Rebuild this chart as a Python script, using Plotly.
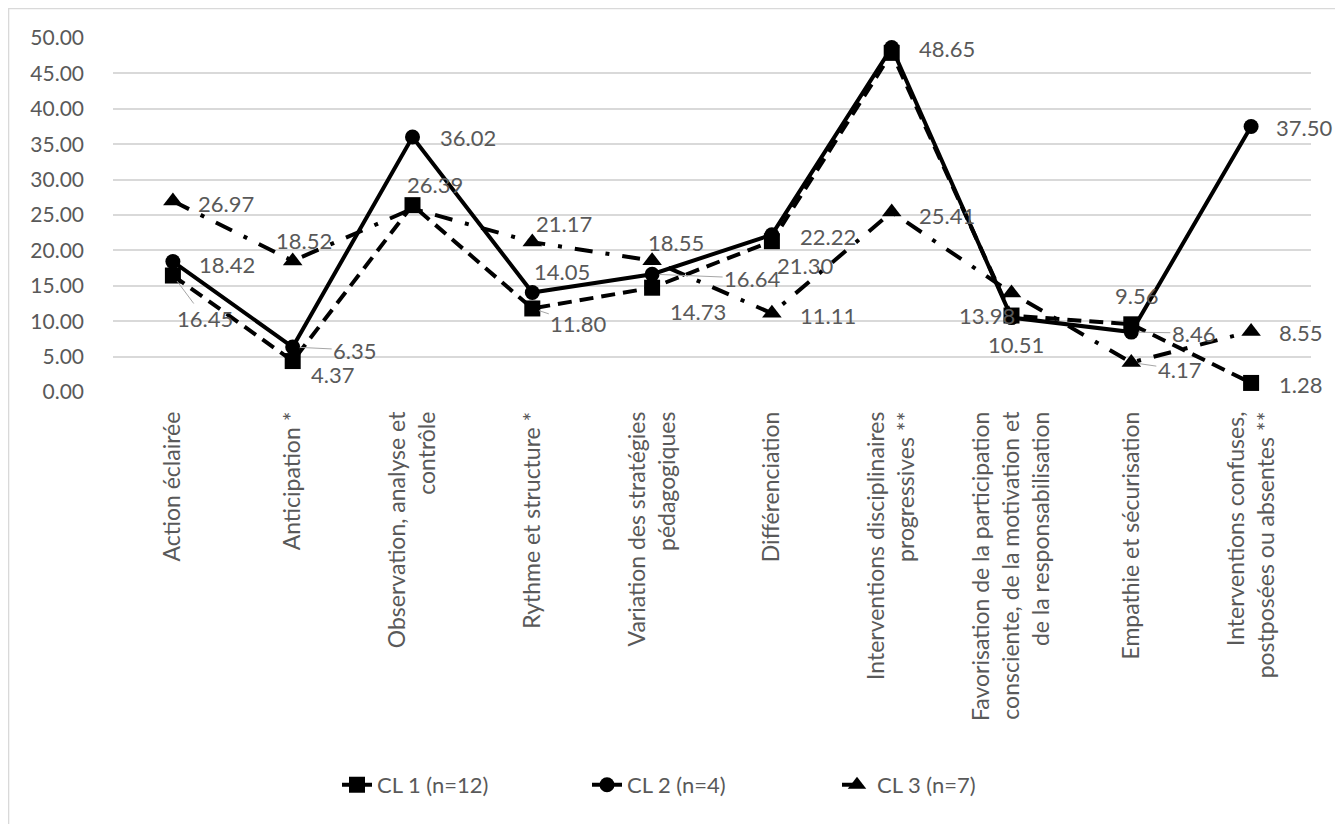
import plotly.graph_objects as go

categories = [
    "Action éclairée",
    "Anticipation *",
    "Observation, analyse et<br>contrôle",
    "Rythme et structure *",
    "Variation des stratégies<br>pédagogiques",
    "Différenciation",
    "Interventions disciplinaires<br>progressives **",
    "Favorisation de la participation<br>consciente, de la motivation et<br>de la responsabilisation",
    "Empathie et sécurisation",
    "Interventions confuses,<br>postposées ou absentes **",
]

cl1 = [16.45, 4.37, 26.39, 11.80, 14.73, 21.30, 47.90, 10.80, 9.56, 1.28]
cl2 = [18.42, 6.35, 36.02, 14.05, 16.64, 22.22, 48.65, 10.51, 8.46, 37.50]
cl3 = [26.97, 18.52, 25.90, 21.17, 18.55, 11.11, 25.41, 13.98, 4.17, 8.55]

names = ["CL 1 (n=12)", "CL 2 (n=4)", "CL 3 (n=7)"]

# data-label placement (pixel offsets of label centre from the point; None = label hidden)
cl1_off = [(32, 43), (40, 13), (22, -21), (46, 15), (46, 24), (33, 24), None, None, (5, -29), (49, 2)]
cl2_off = [(54, 3), (62, 3), (55, 1), (30, -21), (100, 4), (56, 2), (55, 1), (4, 27), (62, 1), (53, 1)]
cl3_off = [(53, 2), (11, -20), None, (32, -19), (24, -18), (56, 2), (55, 3), (-25, 22), (48, 7), (49, 1)]
# labels that Excel drew with a leader line
cl1_lead = [True, False, False, True, False, False, False, False, False, False]
cl2_lead = [False, True, False, False, True, False, False, False, True, False]
cl3_lead = [False] * 8 + [True, False]

FONT = "Lato"
LABEL_COLOR = "#595959"

series = [
    (cl1, names[0], dict(color="black", width=4, dash="14px,8px"),
     dict(symbol="square", size=16, color="black"), cl1_off, cl1_lead),
    (cl2, names[1], dict(color="black", width=4),
     dict(symbol="circle", size=15, color="black"), cl2_off, cl2_lead),
    (cl3, names[2], dict(color="black", width=4, dash="18px,13px,4px,13px"),
     dict(symbol="triangle-up", size=17, color="black"), cl3_off, cl3_lead),
]

fig = go.Figure()
annotations = []
for vals, name, line, marker, offs, leads in series:
    fig.add_trace(go.Scatter(
        x=categories, y=vals, name=name, mode="lines+markers",
        line=line, marker=marker, cliponaxis=False,
    ))
    for cat, v, off, lead in zip(categories, vals, offs, leads):
        if off is None:
            continue
        annotations.append(dict(
            x=cat, y=v, xref="x", yref="y", text=f"{v:.2f}",
            showarrow=True, ax=off[0], ay=off[1], axref="pixel", ayref="pixel",
            arrowhead=0, arrowwidth=1,
            arrowcolor="#a6a6a6" if lead else "rgba(0,0,0,0)",
            standoff=7,
            font=dict(family=FONT, size=22, color=LABEL_COLOR),
        ))

fig.update_layout(
    width=1335, height=816,
    margin=dict(l=105, r=32, t=30, b=432),
    paper_bgcolor="white", plot_bgcolor="white",
    font=dict(family=FONT, size=21, color=LABEL_COLOR),
    showlegend=True,
    legend=dict(orientation="h", x=0.5, xanchor="center", y=-1.11, yanchor="middle",
                font=dict(family=FONT, size=22, color=LABEL_COLOR),
                entrywidth=205, entrywidthmode="pixels"),
    xaxis=dict(
        type="category", range=[-0.5, len(categories) - 0.5], autorange=False,
        tickangle=-90, showgrid=False, showline=False,
        ticks="", ticklabelstandoff=14,
        tickfont=dict(family=FONT, size=23, color=LABEL_COLOR),
    ),
    yaxis=dict(
        range=[0, 50], autorange=False, dtick=5, tickformat=".2f", showgrid=True,
        gridcolor="#d9d9d9", gridwidth=1.5, zeroline=False, showline=False,
        ticks="", ticklabelstandoff=28,
        tickfont=dict(family=FONT, size=21, color=LABEL_COLOR),
    ),
    annotations=annotations,
    shapes=[dict(type="rect", xref="paper", yref="paper",
                 x0=-0.0872, x1=1.0259, y0=-1.3, y1=1.0833,
                 line=dict(color="#d9d9d9", width=1.5), fillcolor="rgba(0,0,0,0)",
                 layer="below")],
)

fig.write_html("out.html")
